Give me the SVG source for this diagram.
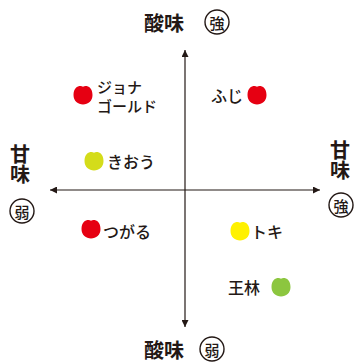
<svg xmlns="http://www.w3.org/2000/svg" width="355" height="362" viewBox="0 0 355 362">
<defs>
<style>
.lbl{font-family:"Noto Sans CJK JP","Noto Sans",sans-serif;font-size:16px;font-weight:500;fill:#231815;dominant-baseline:central}
.ax{font-family:"Noto Sans CJK JP","Noto Sans",sans-serif;font-size:20px;font-weight:bold;fill:#231815;dominant-baseline:central;text-anchor:middle}
.axv{font-family:"Noto Sans CJK JP","Noto Sans",sans-serif;font-size:20px;font-weight:bold;fill:#231815;writing-mode:vertical-rl;text-anchor:start}
.cc{fill:none;stroke:#231815;stroke-width:1.4}
.ct{font-family:"Noto Sans CJK JP","Noto Sans",sans-serif;font-size:15px;font-weight:500;fill:#231815;dominant-baseline:central;text-anchor:middle}
.axis{stroke:#231815;stroke-width:1.2;fill:none}
</style>
<marker id="ah" viewBox="0 0 10 10" refX="10" refY="5" markerWidth="7" markerHeight="7" markerUnits="userSpaceOnUse" orient="auto">
<path d="M0,0 L10,5 L0,10 Z" fill="#231815"/>
</marker>
<path id="apple" d="M0,-8.3 C-3,-10 -9.5,-8.5 -9.5,0 C-9.5,6 -5,9.5 0,9.5 C5,9.5 9.5,6 9.5,0 C9.5,-8.5 3,-10 0,-8.3 Z"/>
</defs>
<g id="connectors">
<line class="axis" x1="185" y1="190" x2="185" y2="50" marker-end="url(#ah)"/>
<line class="axis" x1="185" y1="190" x2="185" y2="327" marker-end="url(#ah)"/>
<line class="axis" x1="185" y1="190" x2="50" y2="190" marker-end="url(#ah)"/>
<line class="axis" x1="185" y1="190" x2="320" y2="190" marker-end="url(#ah)"/>
</g>
<g id="top-label">
<text class="ax" x="164" y="22">酸味</text>
<circle class="cc" cx="217" cy="22" r="12"/>
<text class="ct" x="217" y="22">強</text>
</g>
<g id="bottom-label">
<text class="ax" x="164" y="349">酸味</text>
<circle class="cc" cx="212" cy="349" r="12"/>
<text class="ct" x="212" y="349">弱</text>
</g>
<g id="left-label">
<text class="axv" x="20" y="144">甘味</text>
<circle class="cc" cx="22" cy="211" r="12"/>
<text class="ct" x="22" y="211">弱</text>
</g>
<g id="right-label">
<text class="axv" x="340" y="140">甘味</text>
<circle class="cc" cx="341" cy="205" r="12"/>
<text class="ct" x="341" y="205">強</text>
</g>
<g id="jonagold">
<use href="#apple" x="83" y="95" fill="#e60012"/>
<text class="lbl" x="97" y="86" style="font-size:15px">ジョナ</text>
<text class="lbl" x="97" y="105" style="font-size:15px">ゴールド</text>
</g>
<g id="fuji">
<use href="#apple" x="257" y="95" fill="#e60012"/>
<text class="lbl" x="243" y="95" text-anchor="end">ふじ</text>
</g>
<g id="kiou">
<use href="#apple" x="94" y="161" fill="#d4dc1a"/>
<text class="lbl" x="107" y="161">きおう</text>
</g>
<g id="tsugaru">
<use href="#apple" x="91" y="229" fill="#e60012"/>
<text class="lbl" x="103" y="231">つがる</text>
</g>
<g id="toki">
<use href="#apple" x="240" y="231" fill="#fff100"/>
<text class="lbl" x="251" y="231">トキ</text>
</g>
<g id="orin">
<use href="#apple" x="281" y="287" fill="#8cc63f"/>
<text class="lbl" x="228" y="287">王林</text>
</g>
</svg>
